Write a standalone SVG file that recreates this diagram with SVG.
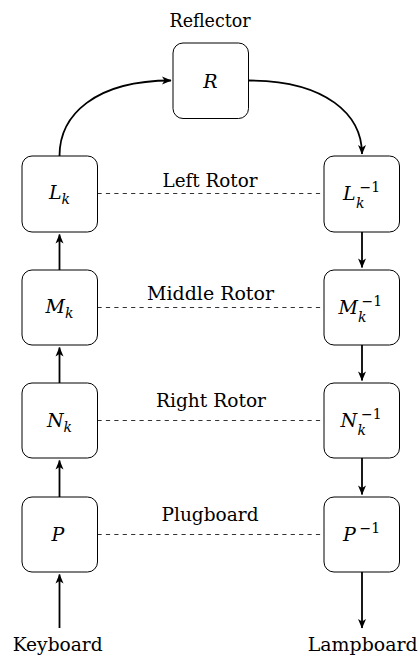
<svg xmlns="http://www.w3.org/2000/svg" width="419" height="656" viewBox="0 0 419 656">
<defs>
<marker id="ah" viewBox="-10 -5 11 10" refX="0" refY="0" markerWidth="11" markerHeight="10" markerUnits="userSpaceOnUse" orient="auto">
<path d="M0.6,0 L-9,-4 L-6.5,0 L-9,4 Z" fill="#000"/>
</marker>
<style>
.box{fill:#fff;stroke:#000;stroke-width:1}
.arr{fill:none;stroke:#000;stroke-width:1.8;marker-end:url(#ah)}
.dash{stroke:#333;stroke-width:1;stroke-dasharray:4.2 4.2;fill:none}
text{font-family:'DejaVu Serif','Liberation Serif',serif;font-size:19px;fill:#000}
.lbl{text-anchor:middle}
.m{font-style:italic}
.s{font-size:14px}
.n{font-style:normal}
</style>
</defs>
<rect width="419" height="656" fill="#fff"/>
<g id="connectors">
<path class="arr" d="M59.5,156 C59.5,115 95,80.5 171,80.5"/>
<path class="arr" d="M248.5,80.5 C326.5,80.5 362,115 362,154"/>
<line class="arr" x1="59.5" y1="270" x2="59.5" y2="234.5"/>
<line class="arr" x1="59.5" y1="383" x2="59.5" y2="347.5"/>
<line class="arr" x1="59.5" y1="497" x2="59.5" y2="460.5"/>
<line class="arr" x1="59.5" y1="628" x2="59.5" y2="574.5"/>
<line class="arr" x1="362" y1="232" x2="362" y2="267.5"/>
<line class="arr" x1="362" y1="345" x2="362" y2="380.5"/>
<line class="arr" x1="362" y1="458" x2="362" y2="494.5"/>
<line class="arr" x1="362" y1="572" x2="362" y2="628"/>
<line class="dash" x1="97.5" y1="193.5" x2="324" y2="193.5"/>
<line class="dash" x1="97.5" y1="307.5" x2="324" y2="307.5"/>
<line class="dash" x1="97.5" y1="420.5" x2="324" y2="420.5"/>
<line class="dash" x1="97.5" y1="534.5" x2="324" y2="534.5"/>
</g>
<g id="reflector">
<rect class="box" x="173" y="43" width="75.5" height="75.5" rx="10"/>
<text class="m" x="210.5" y="87.5" text-anchor="middle">R</text>
<text class="lbl" x="210" y="27.3" textLength="81" lengthAdjust="spacingAndGlyphs">Reflector</text>
</g>
<g id="Lk">
<rect class="box" x="22" y="156" width="75.5" height="76" rx="10"/>
<text class="m" x="59.5" y="199" text-anchor="middle">L<tspan class="s" dy="4.5">k</tspan></text>
</g>
<g id="Mk">
<rect class="box" x="22" y="270" width="75.5" height="75" rx="10"/>
<text class="m" x="59.5" y="313" text-anchor="middle">M<tspan class="s" dy="4.5">k</tspan></text>
</g>
<g id="Nk">
<rect class="box" x="22" y="383" width="75.5" height="75" rx="10"/>
<text class="m" x="59.5" y="427" text-anchor="middle">N<tspan class="s" dy="4.5">k</tspan></text>
</g>
<g id="P">
<rect class="box" x="22" y="497" width="75.5" height="75" rx="10"/>
<text class="m" x="58" y="541" text-anchor="middle">P</text>
</g>
<g id="Lkinv">
<rect class="box" x="324" y="156" width="75.5" height="76" rx="10"/>
<text class="m"><tspan x="343" y="199.5">L</tspan><tspan class="s n" x="359.5" y="191.8">−1</tspan><tspan class="s" x="356" y="207.5">k</tspan></text>
</g>
<g id="Mkinv">
<rect class="box" x="324" y="270" width="75.5" height="75" rx="10"/>
<text class="m"><tspan x="338.5" y="313.5">M</tspan><tspan class="s n" x="361.5" y="305.8">−1</tspan><tspan class="s" x="358" y="321.5">k</tspan></text>
</g>
<g id="Nkinv">
<rect class="box" x="324" y="383" width="75.5" height="75" rx="10"/>
<text class="m"><tspan x="340.5" y="427">N</tspan><tspan class="s n" x="361" y="419.3">−1</tspan><tspan class="s" x="357.5" y="435">k</tspan></text>
</g>
<g id="Pinv">
<rect class="box" x="324" y="497" width="75.5" height="75" rx="10"/>
<text class="m"><tspan x="343" y="541">P</tspan><tspan class="s n" x="359.5" y="533">−1</tspan></text>
</g>
<g id="labels">
<text class="lbl" x="210" y="186.7" textLength="95" lengthAdjust="spacingAndGlyphs">Left Rotor</text>
<text class="lbl" x="210.5" y="300" textLength="127" lengthAdjust="spacingAndGlyphs">Middle Rotor</text>
<text class="lbl" x="211" y="406.7" textLength="110" lengthAdjust="spacingAndGlyphs">Right Rotor</text>
<text class="lbl" x="210" y="521" textLength="97" lengthAdjust="spacingAndGlyphs">Plugboard</text>
</g>
<g id="keyboard">
<text class="lbl" x="57.7" y="651" textLength="90" lengthAdjust="spacingAndGlyphs">Keyboard</text>
</g>
<g id="lampboard">
<text class="lbl" x="362.7" y="651" textLength="110" lengthAdjust="spacingAndGlyphs">Lampboard</text>
</g>
</svg>
